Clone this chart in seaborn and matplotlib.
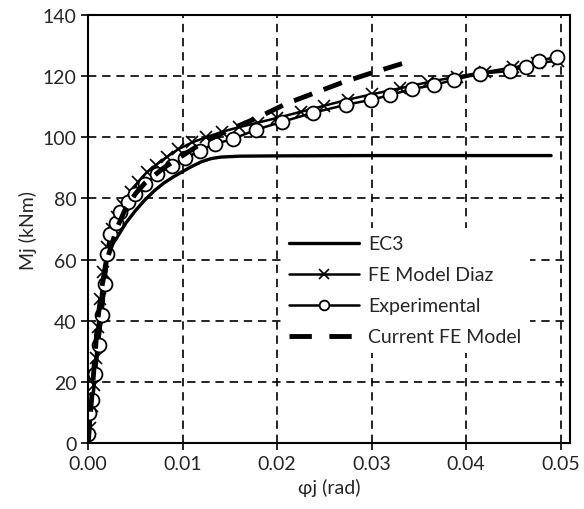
import numpy as np
import pandas as pd
import matplotlib
matplotlib.use("Agg")
import matplotlib.pyplot as plt
import seaborn as sns

# Moment-rotation data
ec3_phi = [0, 0.0021, 0.003, 0.004, 0.005, 0.006, 0.007, 0.008, 0.009, 0.010,
           0.011, 0.012, 0.013, 0.014, 0.016, 0.020, 0.030, 0.040, 0.049]
ec3_m = [0, 62.7, 67, 72, 76, 79.5, 82.5, 85, 87, 88.8,
         90.5, 92, 93, 93.5, 93.8, 93.9, 94, 94, 94]

diaz_phi = [0, 0.0002, 0.0004, 0.0006, 0.0008, 0.001, 0.0013, 0.0016, 0.002, 0.0025,
            0.003, 0.0037, 0.0045, 0.0053, 0.0062, 0.0072, 0.0083, 0.0095, 0.011, 0.0125,
            0.0142, 0.016, 0.018, 0.020, 0.0225, 0.025, 0.0275, 0.030, 0.033, 0.036,
            0.039, 0.042, 0.045, 0.0475, 0.0497]
diaz_m = [0, 5, 12, 19, 28, 38, 47, 56, 64, 70,
          74, 78, 82, 85.5, 88.5, 91, 93.5, 96, 98.3, 100,
          101.8, 103.3, 104.8, 106.3, 108.3, 110.3, 112.3, 114, 116, 118,
          119.8, 121.3, 122.8, 124.2, 125]

exp_phi = [0, 0.0001, 0.0004, 0.0007, 0.0011, 0.0015, 0.0018, 0.002, 0.0023, 0.0029,
           0.0034, 0.0042, 0.005, 0.006, 0.0073, 0.0089, 0.0103, 0.0118, 0.0134, 0.0153,
           0.0178, 0.0205, 0.0238, 0.0273, 0.0299, 0.032, 0.0343, 0.0366, 0.0387, 0.0415,
           0.0447, 0.0463, 0.0477, 0.0496]
exp_m = [3, 10, 14, 22.5, 32, 42, 52, 61.8, 68.4, 72,
         75.5, 78.7, 81.4, 84.7, 88, 90.7, 93.1, 95.6, 97.8, 99.4,
         102.5, 105, 108, 110.6, 112.2, 113.8, 115.8, 117, 118.8, 120.7,
         121.7, 123.1, 125, 126.2]

cur_phi = [0, 0.0005, 0.001, 0.0015, 0.002, 0.003, 0.004, 0.005, 0.006, 0.008,
           0.010, 0.012, 0.015, 0.018, 0.021, 0.024, 0.027, 0.030, 0.0335]
cur_m = [0, 20, 40, 52, 60, 70, 77, 81.5, 85, 90,
         94, 98, 102.5, 106.5, 111, 114.5, 118, 121, 124.3]

sns.set_style("white")
plt.rcParams["font.family"] = ["Lato", "DejaVu Sans"]

fig = plt.figure(figsize=(5.84, 5.10), dpi=100)
ax = fig.add_axes([0.151, 0.129, 0.825, 0.84])

ax.grid(True, color="black", linestyle=(0, (5, 3.5)), linewidth=1.2)
ax.set_axisbelow(True)

sns.lineplot(x=ec3_phi, y=ec3_m, ax=ax, color="black", linewidth=2.4,
             label="EC3", sort=False)
sns.lineplot(x=diaz_phi, y=diaz_m, ax=ax, color="black", linewidth=1.8,
             marker="x", markersize=8, markeredgewidth=1.2,
             markeredgecolor="black", label="FE Model Diaz", sort=False)
sns.lineplot(x=exp_phi, y=exp_m, ax=ax, color="black", linewidth=1.8,
             marker="o", markersize=10, markerfacecolor="white",
             markeredgecolor="black", markeredgewidth=1.3,
             label="Experimental", sort=False)
sns.lineplot(x=cur_phi, y=cur_m, ax=ax, color="black", linewidth=3.5,
             dashes=False, label="Current FE Model", sort=False)
ax.lines[-1].set_linestyle((0, (4, 2.5)))

ax.set_xlim(0, 0.051)
ax.set_ylim(0, 140)
ax.set_xticks([0, 0.01, 0.02, 0.03, 0.04, 0.05])
ax.set_xticklabels(["0.00", "0.01", "0.02", "0.03", "0.04", "0.05"])
ax.set_yticks(range(0, 141, 20))
ax.tick_params(axis="both", labelsize=14, length=5, width=1.2, color="black",
               direction="out", bottom=True, left=True)
for s in ax.spines.values():
    s.set_color("black")
    s.set_linewidth(1.5)

ax.set_xlabel("\u03c6j (rad)", fontsize=14)
ax.set_ylabel("Mj (kNm)", fontsize=14)

leg = ax.legend(loc="upper left", bbox_to_anchor=(0.38, 0.526), frameon=True,
                fontsize=14, handlelength=3.6, labelspacing=0.72,
                handletextpad=0.5, fancybox=False)
leg.get_frame().set_facecolor("white")
leg.get_frame().set_edgecolor("none")
leg.get_frame().set_alpha(1)
for h in leg.get_lines():
    h.set_color("black")
    h.set_markersize(7)
leg.get_lines()[-1].set_linestyle((0, (4.6, 3.6)))

fig.savefig("out.png", dpi=100)
